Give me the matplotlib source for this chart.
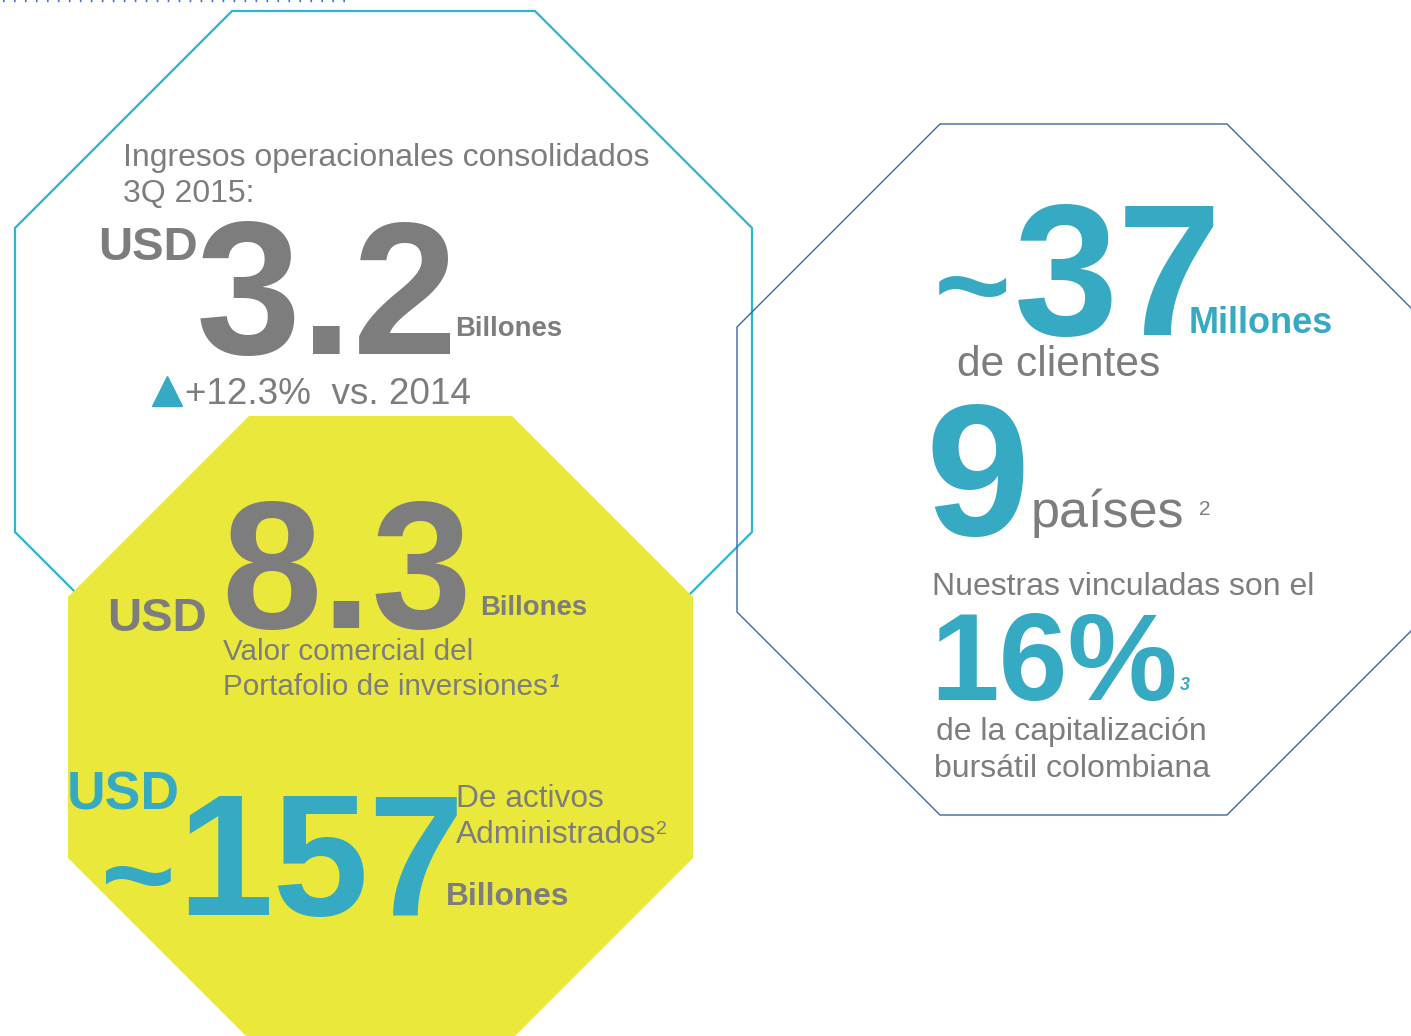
import matplotlib
matplotlib.use("Agg")
import matplotlib.pyplot as plt
from matplotlib.patches import Polygon
from matplotlib import font_manager as fm

# ---------------- content ----------------
revenue_title = ["Ingresos operacionales consolidados", "3Q 2015:"]
revenue_value = "3.2"
revenue_unit = "Billones"
revenue_growth = "+12.3%  vs. 2014"

portfolio_value = "8.3"
portfolio_unit = "Billones"
portfolio_caption = ["Valor comercial del", "Portafolio de inversiones"]
portfolio_note = "1"

aum_value = "157"
aum_caption = ["De activos", "Administrados"]
aum_note = "2"
aum_unit = "Billones"

clients_value = "37"
clients_unit = "Millones"
clients_caption = "de clientes"

countries_value = "9"
countries_caption = "países"
countries_note = "2"

share_intro = "Nuestras vinculadas son el"
share_value = "16%"
share_note = "3"
share_caption = ["de la capitalización", "bursátil colombiana"]

currency = "USD"
approx = "~"

# ---------------- style ----------------
GRAY = "#7d7d7d"
CYAN = "#36a9c3"
LINE_CYAN = "#2bb5cf"
LINE_BLUE = "#3b68a3"
YELLOW = "#eae83a"
DOTS = "#4a6fd6"

names = {f.name for f in fm.fontManager.ttflist}
HAS_NARROW = "Liberation Sans Narrow" in names
SANS = ["Liberation Sans", "DejaVu Sans"]
NARROW = ["Liberation Sans Narrow", "Liberation Sans", "DejaVu Sans"] if HAS_NARROW else SANS

W, H = 1411, 1036
fig = plt.figure(figsize=(W / 100, H / 100), dpi=100)
ax = fig.add_axes([0, 0, 1, 1])
ax.set_xlim(0, W)
ax.set_ylim(H, 0)
ax.axis("off")


def octagon(x0, y0, x1, y1, cut):
    return [(x0 + cut, y0), (x1 - cut, y0), (x1, y0 + cut), (x1, y1 - cut),
            (x1 - cut, y1), (x0 + cut, y1), (x0, y1 - cut), (x0, y0 + cut)]


# shapes
ax.add_patch(Polygon(octagon(15, 11, 752, 749, 217), closed=True, fill=False,
                     edgecolor=LINE_CYAN, lw=1.6, zorder=1))
ax.add_patch(Polygon(octagon(68, 416, 693, 1039, 181), closed=True,
                     facecolor=YELLOW, edgecolor="none", zorder=2))
ax.add_patch(Polygon(octagon(737, 124, 1430, 815, 203), closed=True, fill=False,
                     edgecolor=LINE_BLUE, lw=1.0, zorder=3))
ax.plot([3, 348], [1.2, 1.2], color=DOTS, lw=1.7, linestyle=(0, (0.7, 3.95)),
        solid_capstyle="butt", zorder=3)


def txt(x, y, s, size, color=GRAY, weight="normal", style="normal", family=SANS):
    ax.text(x, y, s, fontsize=size, color=color, fontweight=weight, fontstyle=style,
            family=family, ha="left", va="baseline", zorder=5)


# ---- revenue block ----
txt(123, 166, revenue_title[0], 23)
txt(123, 202, revenue_title[1], 23)
txt(98, 260, currency, 34, weight="bold")
txt(196, 354, revenue_value, 136, weight="bold")
txt(455, 336, revenue_unit, 19.8, weight="bold")
ax.plot([166.5], [391], marker="^", markersize=21, color=CYAN, linestyle="none", zorder=5)
txt(185, 404, revenue_growth, 26.6)

# ---- portfolio block ----
txt(107, 631, currency, 34, weight="bold")
if HAS_NARROW:
    txt(224, 628, portfolio_value, 140, weight="bold", family=NARROW)
else:
    txt(221, 628, portfolio_value, 130, weight="bold")
txt(480, 615, portfolio_unit, 19.8, weight="bold")
txt(223, 660, portfolio_caption[0], 21.3)
txt(223, 695, portfolio_caption[1], 21.3)
txt(550, 687, portfolio_note, 13, weight="bold", style="italic")

# ---- assets block ----
txt(67, 810, currency, 38.5, color=CYAN, weight="bold")
txt(101, 918, approx, 92, color=CYAN, weight="bold")
if HAS_NARROW:
    txt(176, 915, aum_value, 140, color=CYAN, weight="bold", family=NARROW)
else:
    txt(177, 915, aum_value, 124, color=CYAN, weight="bold")
txt(456, 807, aum_caption[0], 22.8)
txt(456, 843, aum_caption[1], 22.8)
txt(656, 834, aum_note, 14)
txt(446, 905, aum_unit, 22.8, weight="bold")

# ---- clients block ----
txt(934, 330, approx, 95, color=CYAN, weight="bold")
txt(1014, 335, clients_value, 135, color=CYAN, weight="bold")
if HAS_NARROW:
    txt(1188, 333, clients_unit, 30.5, color=CYAN, weight="bold", family=NARROW)
else:
    txt(1189, 333, clients_unit, 26, color=CYAN, weight="bold")
txt(957, 376, clients_caption, 30.6)

# ---- countries block ----
txt(925, 535, countries_value, 135, color=CYAN, weight="bold")
txt(1031, 527, countries_caption, 37.5)
txt(1199, 515, countries_note, 15)

# ---- market share block ----
txt(932, 595, share_intro, 23)
txt(930, 700, share_value, 89, color=CYAN, weight="bold")
txt(1180, 690, share_note, 13, color=CYAN, weight="bold", style="italic")
txt(936, 740, share_caption[0], 23)
txt(934, 777, share_caption[1], 23)

fig.savefig("out.png", dpi=100)
